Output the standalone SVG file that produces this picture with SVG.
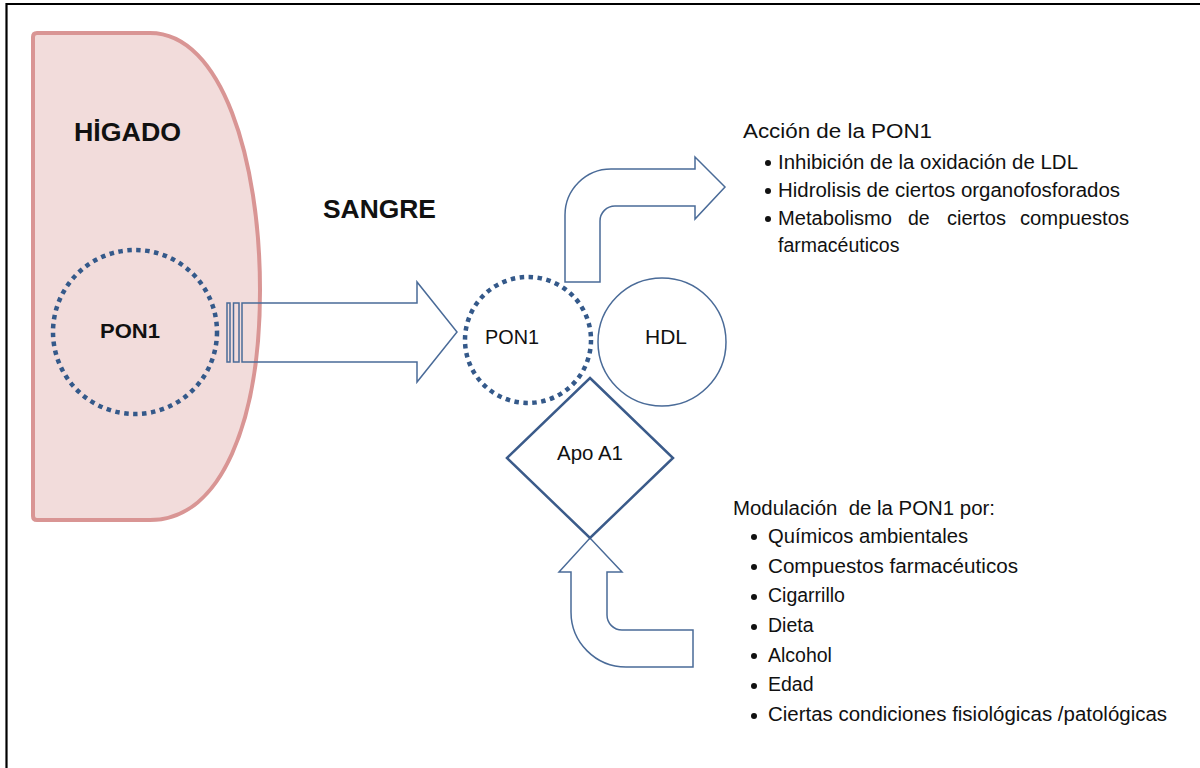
<svg xmlns="http://www.w3.org/2000/svg" width="1200" height="768" viewBox="0 0 1200 768">
<style>
text{font-family:"Liberation Sans",Arial,sans-serif;fill:#111}
.b{font-weight:bold}
.arrow{fill:#fff;stroke:#4a6b98;stroke-width:1.5;stroke-linejoin:miter}
.open{fill:none}
.dot{fill:none;stroke:#34598a;stroke-width:4.5;stroke-dasharray:4.5 4.5}
.lst{font-size:19.5px}
</style>
<rect x="0" y="0" width="1200" height="768" fill="#fff"/>
<path d="M6.5 768 V4 H1200" fill="none" stroke="#000" stroke-width="2.2"/>

<g id="higado">
<path d="M37 33 H150 C222 33 260 160 260 290 C260 420 222 520 150 520 H37 Q33 520 33 516 V37 Q33 33 37 33 Z" fill="#f2dcdb" stroke="#d99594" stroke-width="4"/>
<text class="b" x="74" y="141" font-size="26" textLength="107" lengthAdjust="spacingAndGlyphs">HİGADO</text>
</g>

<g id="pon1-higado">
<circle cx="135" cy="332" r="82" class="dot"/>
<text class="b" x="100" y="338" font-size="20" textLength="60" lengthAdjust="spacingAndGlyphs">PON1</text>
</g>

<g id="sangre">
<text class="b" x="323" y="218" font-size="26" textLength="113" lengthAdjust="spacingAndGlyphs">SANGRE</text>
</g>

<g id="connectors">
<rect class="arrow open" x="227" y="303" width="3" height="59"/>
<rect class="arrow open" x="233.5" y="303" width="5.5" height="59"/>
<path class="arrow open" d="M242 303 H417 V282 L457 332 L417 382 V362 H242 Z"/>
<path class="arrow" d="M565 282 V215 A46 46 0 0 1 611 169 H695 V157 L725 187 L695 219 V206 H615 A15 15 0 0 0 600 221 V282 Z"/>
<path class="arrow" d="M693 630 H622 A15 15 0 0 1 607 615 V572 H622 L590 538 L559 572 H571 V612 A55 55 0 0 0 626 667 H693 Z"/>
</g>

<g id="pon1-sangre">
<circle cx="528" cy="340" r="63" class="dot"/>
<text x="485" y="344" font-size="20" textLength="54" lengthAdjust="spacingAndGlyphs">PON1</text>
</g>

<g id="hdl">
<circle cx="662" cy="342" r="64" fill="#fff" stroke="#4a6b98" stroke-width="1.5"/>
<text x="645" y="344" font-size="20" textLength="42" lengthAdjust="spacingAndGlyphs">HDL</text>
</g>

<g id="apoa1">
<path d="M590 378 L673 458 L590 538 L507 458 Z" fill="#fff" stroke="#3b5b8a" stroke-width="2.5"/>
<text x="557" y="460" font-size="20" textLength="66" lengthAdjust="spacingAndGlyphs">Apo A1</text>
</g>

<g id="accion">
<text class="lst" x="743" y="138" textLength="189" lengthAdjust="spacingAndGlyphs">Acción de la PON1</text>
<g fill="#111">
<circle cx="768" cy="163" r="3"/>
<circle cx="768" cy="191" r="3"/>
<circle cx="768" cy="219" r="3"/>
</g>
<text class="lst" x="778" y="169" textLength="300" lengthAdjust="spacingAndGlyphs">Inhibición de la oxidación de LDL</text>
<text class="lst" x="778" y="197" textLength="342" lengthAdjust="spacingAndGlyphs">Hidrolisis de ciertos organofosforados</text>
<text class="lst" y="225"><tspan x="778" textLength="114" lengthAdjust="spacingAndGlyphs">Metabolismo</tspan><tspan x="908">de</tspan><tspan x="947" textLength="59" lengthAdjust="spacingAndGlyphs">ciertos</tspan><tspan x="1020" textLength="109" lengthAdjust="spacingAndGlyphs">compuestos</tspan></text>
<text class="lst" x="778" y="252">farmacéuticos</text>
</g>

<g id="modulacion">
<text class="lst" x="733" y="515" textLength="262" lengthAdjust="spacingAndGlyphs" xml:space="preserve">Modulación  de la PON1 por:</text>
<g fill="#111">
<circle cx="754" cy="537" r="3"/>
<circle cx="754" cy="567" r="3"/>
<circle cx="754" cy="597" r="3"/>
<circle cx="754" cy="627" r="3"/>
<circle cx="754" cy="656" r="3"/>
<circle cx="754" cy="686" r="3"/>
<circle cx="754" cy="716" r="3"/>
</g>
<text class="lst" x="768" y="543" textLength="200" lengthAdjust="spacingAndGlyphs">Químicos ambientales</text>
<text class="lst" x="768" y="573" textLength="250" lengthAdjust="spacingAndGlyphs">Compuestos farmacéuticos</text>
<text class="lst" x="768" y="602">Cigarrillo</text>
<text class="lst" x="768" y="632">Dieta</text>
<text class="lst" x="768" y="662">Alcohol</text>
<text class="lst" x="768" y="691">Edad</text>
<text class="lst" x="768" y="721" textLength="399" lengthAdjust="spacingAndGlyphs">Ciertas condiciones fisiológicas /patológicas</text>
</g>
</svg>
